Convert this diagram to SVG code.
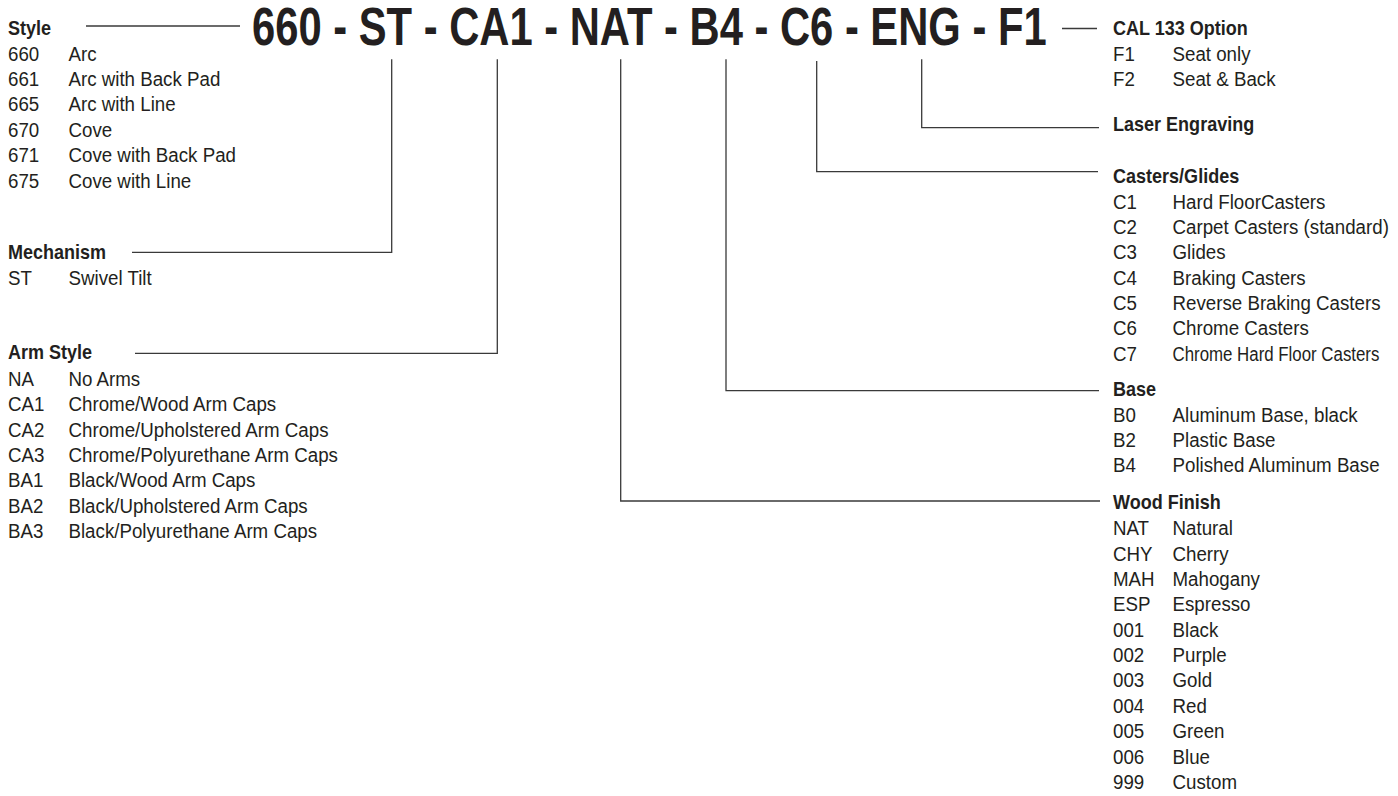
<svg xmlns="http://www.w3.org/2000/svg" width="1398" height="796" viewBox="0 0 1398 796">
<style>
text { font-family: "Liberation Sans", Arial, Helvetica, sans-serif; font-size: 19.5px; fill: #231f20; }
.b { font-weight: bold; }
.title { font-weight: bold; font-size: 53.5px; }
.ln { stroke: #3a3a3a; stroke-width: 1.3; fill: none; }
</style>
<rect width="1398" height="796" fill="#ffffff"/>

<g id="code">
  <text class="title" transform="translate(252,45) scale(0.7804,1)">660 - ST - CA1 - NAT - B4 - C6 - ENG - F1</text>
</g>

<g id="connectors">
  <path class="ln" d="M86,26 H240"/>
  <path class="ln" d="M1062,28.5 H1097"/>
  <path class="ln" d="M132,252.3 H391.7 V59.3"/>
  <path class="ln" d="M135,353.3 H497.3 V59.3"/>
  <path class="ln" d="M620.7,59.3 V501 H1100"/>
  <path class="ln" d="M726,59.3 V390.7 H1099"/>
  <path class="ln" d="M816.7,61 V171.7 H1098"/>
  <path class="ln" d="M921.7,59.3 V127.7 H1099"/>
</g>

<g id="style">
  <text class="b" transform="translate(8,35) scale(0.925,1)">Style</text>
  <g transform="translate(8,60.7) scale(0.96,1)"><text>660</text><text x="63">Arc</text></g>
  <g transform="translate(8,86.1) scale(0.96,1)"><text>661</text><text x="63">Arc with Back Pad</text></g>
  <g transform="translate(8,111.4) scale(0.96,1)"><text>665</text><text x="63">Arc with Line</text></g>
  <g transform="translate(8,136.8) scale(0.96,1)"><text>670</text><text x="63">Cove</text></g>
  <g transform="translate(8,162.1) scale(0.96,1)"><text>671</text><text x="63">Cove with Back Pad</text></g>
  <g transform="translate(8,187.5) scale(0.96,1)"><text>675</text><text x="63">Cove with Line</text></g>
</g>

<g id="mechanism">
  <text class="b" transform="translate(8,259) scale(0.925,1)">Mechanism</text>
  <g transform="translate(8,285) scale(0.96,1)"><text>ST</text><text x="63">Swivel Tilt</text></g>
</g>

<g id="arm-style">
  <text class="b" transform="translate(8,359) scale(0.925,1)">Arm Style</text>
  <g transform="translate(8,386) scale(0.96,1)"><text>NA</text><text x="63">No Arms</text></g>
  <g transform="translate(8,411.4) scale(0.96,1)"><text>CA1</text><text x="63">Chrome/Wood Arm Caps</text></g>
  <g transform="translate(8,436.7) scale(0.96,1)"><text>CA2</text><text x="63">Chrome/Upholstered Arm Caps</text></g>
  <g transform="translate(8,462.1) scale(0.96,1)"><text>CA3</text><text x="63">Chrome/Polyurethane Arm Caps</text></g>
  <g transform="translate(8,487.4) scale(0.96,1)"><text>BA1</text><text x="63">Black/Wood Arm Caps</text></g>
  <g transform="translate(8,512.8) scale(0.96,1)"><text>BA2</text><text x="63">Black/Upholstered Arm Caps</text></g>
  <g transform="translate(8,538.1) scale(0.96,1)"><text>BA3</text><text x="63">Black/Polyurethane Arm Caps</text></g>
</g>

<g id="cal133">
  <text class="b" transform="translate(1113,35) scale(0.925,1)">CAL 133 Option</text>
  <g transform="translate(1113,61) scale(0.96,1)"><text>F1</text><text x="62">Seat only</text></g>
  <g transform="translate(1113,86.3) scale(0.96,1)"><text>F2</text><text x="62">Seat &amp; Back</text></g>
</g>

<g id="laser">
  <text class="b" transform="translate(1113,131) scale(0.925,1)">Laser Engraving</text>
</g>

<g id="casters">
  <text class="b" transform="translate(1113,183) scale(0.925,1)">Casters/Glides</text>
  <g transform="translate(1113,208.5) scale(0.96,1)"><text>C1</text><text x="62">Hard FloorCasters</text></g>
  <g transform="translate(1113,233.8) scale(0.96,1)"><text>C2</text><text x="62">Carpet Casters (standard)</text></g>
  <g transform="translate(1113,259.1) scale(0.96,1)"><text>C3</text><text x="62">Glides</text></g>
  <g transform="translate(1113,284.5) scale(0.96,1)"><text>C4</text><text x="62">Braking Casters</text></g>
  <g transform="translate(1113,309.8) scale(0.96,1)"><text>C5</text><text x="62">Reverse Braking Casters</text></g>
  <g transform="translate(1113,335.2) scale(0.96,1)"><text>C6</text><text x="62">Chrome Casters</text></g>
  <g transform="translate(1113,360.5) scale(0.96,1)"><text>C7</text><text x="62" transform="scale(0.9,1) translate(6.9,0)">Chrome Hard Floor Casters</text></g>
</g>

<g id="base">
  <text class="b" transform="translate(1113,396.3) scale(0.925,1)">Base</text>
  <g transform="translate(1113,421.7) scale(0.96,1)"><text>B0</text><text x="62">Aluminum Base, black</text></g>
  <g transform="translate(1113,447) scale(0.96,1)"><text>B2</text><text x="62">Plastic Base</text></g>
  <g transform="translate(1113,472.3) scale(0.96,1)"><text>B4</text><text x="62">Polished Aluminum Base</text></g>
</g>

<g id="wood-finish">
  <text class="b" transform="translate(1113,509) scale(0.925,1)">Wood Finish</text>
  <g transform="translate(1113,535.3) scale(0.96,1)"><text>NAT</text><text x="62">Natural</text></g>
  <g transform="translate(1113,560.7) scale(0.96,1)"><text>CHY</text><text x="62">Cherry</text></g>
  <g transform="translate(1113,586) scale(0.96,1)"><text>MAH</text><text x="62">Mahogany</text></g>
  <g transform="translate(1113,611.4) scale(0.96,1)"><text>ESP</text><text x="62">Espresso</text></g>
  <g transform="translate(1113,636.7) scale(0.96,1)"><text>001</text><text x="62">Black</text></g>
  <g transform="translate(1113,662.1) scale(0.96,1)"><text>002</text><text x="62">Purple</text></g>
  <g transform="translate(1113,687.4) scale(0.96,1)"><text>003</text><text x="62">Gold</text></g>
  <g transform="translate(1113,712.8) scale(0.96,1)"><text>004</text><text x="62">Red</text></g>
  <g transform="translate(1113,738.1) scale(0.96,1)"><text>005</text><text x="62">Green</text></g>
  <g transform="translate(1113,763.5) scale(0.96,1)"><text>006</text><text x="62">Blue</text></g>
  <g transform="translate(1113,788.8) scale(0.96,1)"><text>999</text><text x="62">Custom</text></g>
</g>
</svg>
